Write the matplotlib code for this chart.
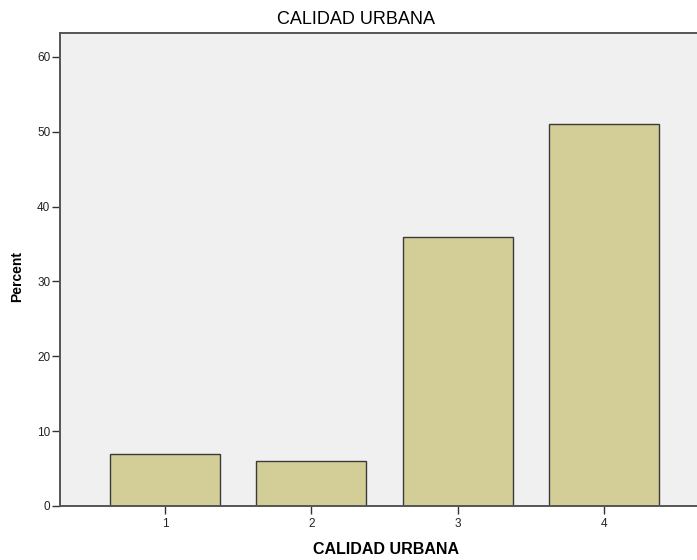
import matplotlib
matplotlib.use("Agg")
from matplotlib import pyplot as plt

categories = ["1", "2", "3", "4"]
percent = [7, 6, 36, 51]
y_ticks = [0, 10, 20, 30, 40, 50, 60]

plt.rcParams["font.family"] = ["Liberation Sans", "DejaVu Sans"]

fig = plt.figure(figsize=(6.97, 5.6), dpi=100)
ax = fig.add_axes([60 / 697, 54 / 560, 1 - 60 / 697, 473 / 560])
ax.set_facecolor("#f0f0f0")

pos = list(range(1, len(categories) + 1))
ax.bar(pos, percent, width=0.75, color="#d3ce97", edgecolor="#3a3a3a", linewidth=1.0, zorder=2)

ax.set_xlim(0.282, 4.636)
ax.set_ylim(0, 63.2)
ax.set_xticks(pos)
ax.set_xticklabels(categories)
ax.set_yticks(y_ticks)

for side in ["top", "left", "bottom"]:
    ax.spines[side].set_color("#555555")
    ax.spines[side].set_linewidth(1.4)
ax.spines["right"].set_visible(False)

ax.tick_params(axis="both", labelsize=8.5, labelcolor="#222222", color="#333333", length=5.5, width=1)
ax.tick_params(axis="x", pad=3)
ax.tick_params(axis="y", pad=1.5)

# titles placed in figure pixels to match the SPSS layout
fig.text(356 / 697, 1 - 19 / 560, "CALIDAD URBANA", fontsize=13, ha="center", va="center")
fig.text(386 / 697, 1 - 549 / 560, "CALIDAD URBANA", fontsize=11.5, fontweight="bold", ha="center", va="center")
fig.text(17 / 697, 1 - 276 / 560, "Percent", fontsize=10, fontweight="bold", rotation=90, ha="center", va="center")

fig.savefig("out.png", dpi=100)
